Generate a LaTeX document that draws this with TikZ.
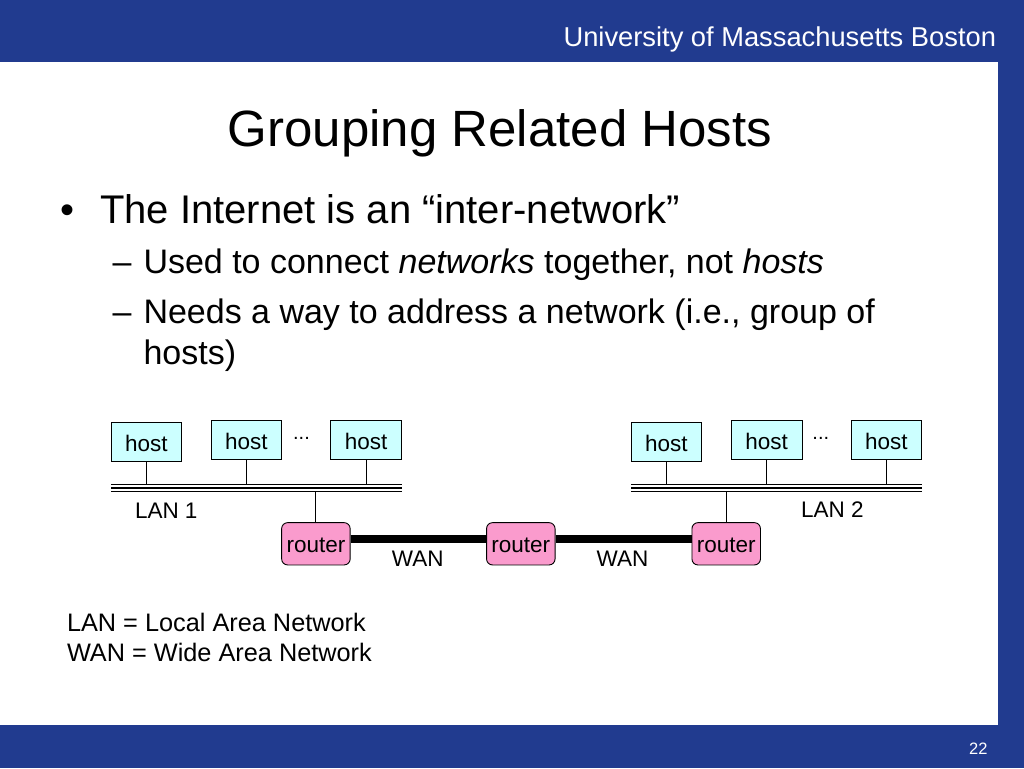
\documentclass[tikz,border=0pt]{standalone}
\usepackage{fontspec}
\setmainfont{Liberation Sans}
\definecolor{umbblue}{RGB}{33,59,143}
\definecolor{hostfill}{RGB}{204,255,255}
\definecolor{routerfill}{RGB}{250,155,205}
\tikzset{
  txt/.style={inner sep=0pt, outer sep=0pt, anchor=base west},
  hostbox/.style={draw=black, line width=0.9pt, fill=hostfill, minimum width=70.7pt, minimum height=39.4pt, inner sep=0pt, text height=19.3pt, text depth=0pt, font=\fontsize{22.5}{26}\selectfont},
  routerbox/.style={draw=black, line width=0.9pt, fill=routerfill, rounded corners=6pt, minimum width=68.5pt, minimum height=42.3pt, inner sep=0pt, text height=17.8pt, text depth=0pt, font=\fontsize{22.5}{26}\selectfont},
  tap/.style={draw=black, line width=1pt},
  wanlink/.style={draw=black, line width=8.3pt},
  difftxt/.style={inner sep=0pt, outer sep=0pt, font=\fontsize{22.5}{26}\selectfont},
}
\newcommand{\drawlan}[2]{%
  \draw[black, line width=7.8pt] (#1) -- (#2);
  \draw[white, line width=5.4pt] (#1) -- (#2);
  \draw[black, line width=1.2pt] (#1) -- (#2);
}
\begin{document}
\begin{tikzpicture}[x=1pt,y=-1pt]
\useasboundingbox (0,0) rectangle (1024,768);
% frame
\fill[white] (0,0) rectangle (1024,768);
\fill[umbblue] (0,0) rectangle (1024,62);
\fill[umbblue] (998,0) rectangle (1024,768);
\fill[umbblue] (0,725) rectangle (1024,768);
\node[txt, anchor=base east, text=white, font=\fontsize{27.3}{32}\selectfont] (hdr) at (996,46.5) {University of Massachusetts Boston};
\node[txt, anchor=base east, text=white, font=\fontsize{16.5}{20}\selectfont] (pg) at (987.5,754) {22};
% title
\node[txt, anchor=base, font=\fontsize{51}{60}\selectfont] (title) at (500,146) {Grouping Related Hosts};
% bullets
\node[txt, font=\fontsize{40}{48}\selectfont] (b1) at (60.5,223.3) {\textbullet};
\node[txt, font=\fontsize{40}{48}\selectfont] (t1) at (100,223.3) {The Internet is an “inter-network”};
\node[txt, font=\fontsize{34}{40}\selectfont] (d1) at (112.5,273.3) {–};
\node[txt, font=\fontsize{34}{40}\selectfont] (t2) at (143.5,273.3) {Used to connect \textit{networks} together, not \textit{hosts}};
\node[txt, font=\fontsize{34}{40}\selectfont] (d2) at (112.5,323.3) {–};
\node[txt, font=\fontsize{34}{40}\selectfont] (t3) at (143.5,323.3) {Needs a way to address a network (i.e., group of};
\node[txt, font=\fontsize{34}{40}\selectfont] (t4) at (143.5,364.5) {hosts)};
% hosts
\node[hostbox] (h1) at (146.4,442) {host};
\node[hostbox] (h2) at (246.4,439.7) {host};
\node[hostbox] (h3) at (366.2,439.7) {host};
\node[hostbox] (h4) at (666.4,442) {host};
\node[hostbox] (h5) at (766.7,439.7) {host};
\node[hostbox] (h6) at (886.4,439.7) {host};
\node[txt, anchor=base, font=\fontsize{20}{24}\selectfont] (dots1) at (301.5,439.5) {...};
\node[txt, anchor=base, font=\fontsize{20}{24}\selectfont] (dots2) at (820.8,439.5) {...};
% routers
\node[routerbox] (r1) at (315.9,543.8) {router};
\node[routerbox] (r2) at (520.8,543.8) {router};
\node[routerbox] (r3) at (726.2,543.8) {router};
% LAN coordinates
\coordinate (l1w) at (111,488);
\coordinate (l1e) at (401.7,488);
\coordinate (l2w) at (631,488);
\coordinate (l2e) at (921.7,488);
% taps
\draw[tap] (h1.south) -- (h1.south |- l1w);
\draw[tap] (h2.south) -- (h2.south |- l1w);
\draw[tap] (h3.south) -- (h3.south |- l1w);
\draw[tap] (r1.north) -- (r1.north |- l1w);
\draw[tap] (h4.south) -- (h4.south |- l2w);
\draw[tap] (h5.south) -- (h5.south |- l2w);
\draw[tap] (h6.south) -- (h6.south |- l2w);
\draw[tap] (r3.north) -- (r3.north |- l2w);
\drawlan{l1w}{l1e}
\drawlan{l2w}{l2e}
% WAN links
\draw[wanlink] ([yshift=4.6pt]r1.east) -- ([yshift=4.6pt]r2.west);
\draw[wanlink] ([yshift=4.6pt]r2.east) -- ([yshift=4.6pt]r3.west);
% labels
\node[difftxt, anchor=base west] (lan1) at (135,518) {LAN 1};
\node[difftxt, anchor=base west] (lan2) at (801,517) {LAN 2};
\node[difftxt, anchor=base] (wan1) at (417.7,566.7) {WAN};
\node[difftxt, anchor=base] (wan2) at (622.5,566.7) {WAN};
% notes
\node[txt, font=\fontsize{25.3}{30}\selectfont] (n1) at (67,631.7) {LAN = Local Area Network};
\node[txt, font=\fontsize{25.3}{30}\selectfont] (n2) at (67,661.7) {WAN = Wide Area Network};
\end{tikzpicture}
\end{document}
